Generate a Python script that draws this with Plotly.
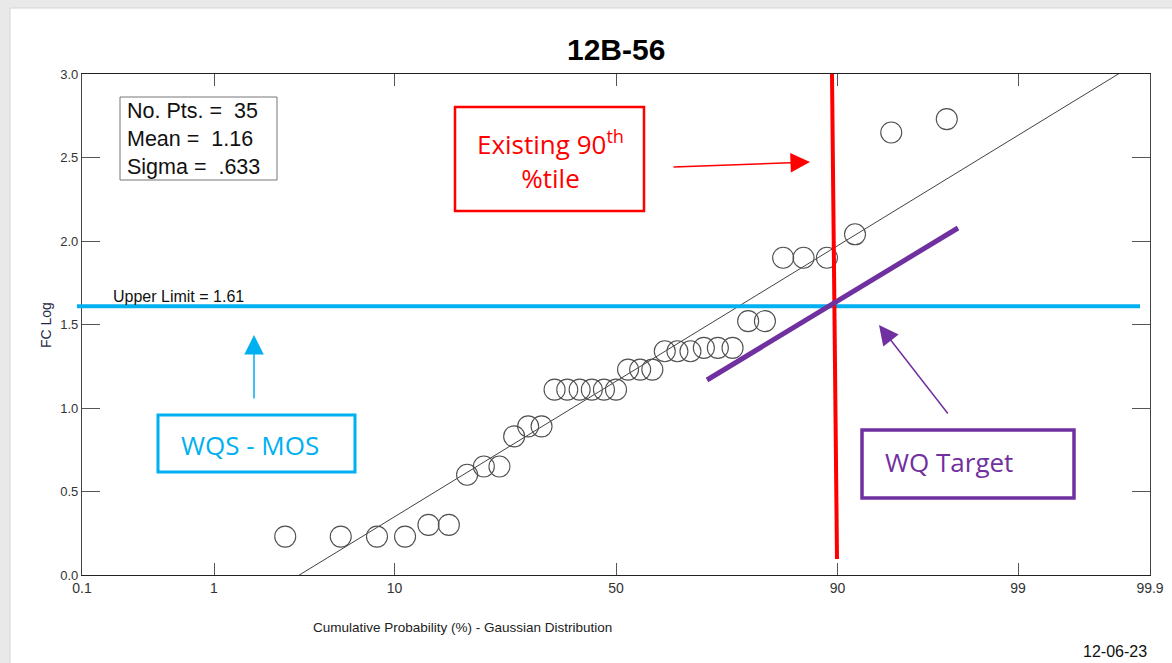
import math
import plotly.graph_objects as go

# ---------------- data ----------------
chart_title = "12B-56"
cum_prob_pct = [2.78, 5.56, 8.33, 11.11, 13.89, 16.67, 19.44, 22.22, 25.00, 27.78,
                30.56, 33.33, 36.11, 38.89, 41.67, 44.44, 47.22, 50.00, 52.78, 55.56,
                58.33, 61.11, 63.89, 66.67, 69.44, 72.22, 75.00, 77.78, 80.56, 83.33,
                86.11, 88.89, 91.67, 94.44, 97.22]
fc_log = [0.23, 0.23, 0.23, 0.23, 0.30, 0.30, 0.60, 0.65, 0.65, 0.83,
          0.89, 0.89, 1.11, 1.11, 1.11, 1.11, 1.11, 1.11, 1.23, 1.23,
          1.23, 1.34, 1.34, 1.34, 1.36, 1.36, 1.36, 1.52, 1.52, 1.90,
          1.90, 1.90, 2.04, 2.65, 2.73]
x_tick_labels = ["0.1", "1", "10", "50", "90", "99", "99.9"]
y_tick_vals = [0.0, 0.5, 1.0, 1.5, 2.0, 2.5, 3.0]
n_pts = 35
mean_val = 1.16
sigma_val = 0.633
upper_limit = 1.61
stats_lines = ["No. Pts. =\u00a0\u00a035", "Mean =\u00a0\u00a01.16", "Sigma =\u00a0\u00a0.633"]
date_text = "12-06-23"


def norm_ppf(p):
    lo, hi = -10.0, 10.0
    for _ in range(200):
        mid = (lo + hi) / 2
        if 0.5 * (1 + math.erf(mid / math.sqrt(2))) < p:
            lo = mid
        else:
            hi = mid
    return (lo + hi) / 2


# ---------------- layout geometry ----------------
W, H = 1172, 663
L, R, T, B = 82, 1150, 74, 575


def px(x):
    return (x - L) / (R - L)


def py(y):
    return (B - y) / (B - T)


zmin = norm_ppf(0.001)
zmax = norm_ppf(0.999)
x_pts = [norm_ppf(p / 100) for p in cum_prob_pct]
x_ticks = [norm_ppf(float(t) / 100) for t in x_tick_labels]

fig = go.Figure()

# fit line
fig.add_trace(go.Scatter(
    x=[zmin, zmax], y=[mean_val + sigma_val * zmin, mean_val + sigma_val * zmax],
    mode="lines", line=dict(color="#111111", width=0.8), hoverinfo="skip", showlegend=False))

# data points
fig.add_trace(go.Scatter(
    x=x_pts, y=fc_log, mode="markers",
    marker=dict(symbol="circle-open", size=21, color="#505050", line=dict(width=1.1, color="#505050")),
    showlegend=False, cliponaxis=False))

ARIAL = "Liberation Sans, Arial, sans-serif"
CALLOUT = "Open Sans, Segoe UI, sans-serif"

shapes = []
# page frame (grey bands top and left)
shapes.append(dict(type="rect", xref="paper", yref="paper", x0=px(0), x1=px(W), y0=py(0), y1=py(8),
                   fillcolor="#e9e9e9", line=dict(width=0), layer="below"))
shapes.append(dict(type="rect", xref="paper", yref="paper", x0=px(0), x1=px(10), y0=py(0), y1=py(H),
                   fillcolor="#e9e9e9", line=dict(width=0), layer="below"))
shapes.append(dict(type="line", xref="paper", yref="paper", x0=px(10), x1=px(W), y0=py(8), y1=py(8),
                   line=dict(color="#d4d4d4", width=1)))
shapes.append(dict(type="line", xref="paper", yref="paper", x0=px(10), x1=px(10), y0=py(8), y1=py(H),
                   line=dict(color="#d4d4d4", width=1)))

# upper limit line
shapes.append(dict(type="line", xref="paper", yref="y", x0=px(77), x1=px(1140), y0=upper_limit, y1=upper_limit,
                   line=dict(color="#00B0F0", width=4), layer="above"))
# existing 90th percentile line (red)
shapes.append(dict(type="line", xref="paper", yref="paper", x0=px(832), y0=py(74), x1=px(837), y1=py(559),
                   line=dict(color="#FF0000", width=4), layer="above"))
# WQ target line (purple)
shapes.append(dict(type="line", xref="paper", yref="paper", x0=px(707), y0=py(380), x1=px(958), y1=py(228),
                   line=dict(color="#7030A0", width=5), layer="above"))
# callout boxes
shapes.append(dict(type="rect", xref="paper", yref="paper", x0=px(455), x1=px(644), y0=py(107), y1=py(211),
                   line=dict(color="#FF0000", width=2.5), fillcolor="rgba(0,0,0,0)"))
shapes.append(dict(type="rect", xref="paper", yref="paper", x0=px(158), x1=px(355), y0=py(415), y1=py(472),
                   line=dict(color="#00B0F0", width=3), fillcolor="rgba(0,0,0,0)"))
shapes.append(dict(type="rect", xref="paper", yref="paper", x0=px(862), x1=px(1074), y0=py(430), y1=py(498),
                   line=dict(color="#7030A0", width=3.5), fillcolor="rgba(0,0,0,0)"))
# stats box
shapes.append(dict(type="rect", xref="paper", yref="paper", x0=px(120), x1=px(277), y0=py(97), y1=py(180),
                   line=dict(color="#777777", width=1), fillcolor="white"))

annotations = []
# stats text
annotations.append(dict(xref="paper", yref="paper", x=px(125), y=py(138.5), xanchor="left", yanchor="middle",
                        text="<br>".join(stats_lines), showarrow=False, align="left",
                        font=dict(family=ARIAL, size=21.5, color="#111111")))
# upper limit label
annotations.append(dict(xref="paper", yref="paper", x=px(111), y=py(296), xanchor="left", yanchor="middle",
                        text=f"Upper Limit = {upper_limit:.2f}", showarrow=False,
                        font=dict(family=ARIAL, size=16, color="#111111")))
# callout texts
annotations.append(dict(xref="paper", yref="paper", x=px(550), y=py(160), xanchor="center", yanchor="middle",
                        text="Existing 90<sup>th</sup><br>%tile", showarrow=False, align="center",
                        font=dict(family=CALLOUT, size=26, color="#FF0000")))
annotations.append(dict(xref="paper", yref="paper", x=px(179), y=py(445), xanchor="left", yanchor="middle",
                        text="WQS - MOS", showarrow=False,
                        font=dict(family=CALLOUT, size=26, color="#00B0F0")))
annotations.append(dict(xref="paper", yref="paper", x=px(883), y=py(462), xanchor="left", yanchor="middle",
                        text="WQ Target", showarrow=False,
                        font=dict(family=CALLOUT, size=26, color="#7030A0")))
# arrows
annotations.append(dict(xref="paper", yref="paper", x=px(810), y=py(162), ax=672 - 810, ay=167 - 162,
                        text="", showarrow=True, arrowhead=2, arrowsize=2.6, arrowwidth=1.5, arrowcolor="#FF0000"))
annotations.append(dict(xref="paper", yref="paper", x=px(254), y=py(335), ax=0, ay=400 - 335,
                        text="", showarrow=True, arrowhead=2, arrowsize=2.6, arrowwidth=1.5, arrowcolor="#00B0F0"))
annotations.append(dict(xref="paper", yref="paper", x=px(879), y=py(325), ax=949 - 879, ay=415 - 325,
                        text="", showarrow=True, arrowhead=2, arrowsize=2.6, arrowwidth=1.5, arrowcolor="#7030A0"))
# title
annotations.append(dict(xref="paper", yref="paper", x=px(616), y=py(49), xanchor="center", yanchor="middle",
                        text=f"<b>{chart_title}</b>", showarrow=False,
                        font=dict(family=ARIAL, size=30, color="#000000")))
# axis titles
annotations.append(dict(xref="paper", yref="paper", x=px(462), y=py(627), xanchor="center", yanchor="middle",
                        text="Cumulative Probability (%) - Gaussian Distribution", showarrow=False,
                        font=dict(family=ARIAL, size=13.5, color="#222222")))
annotations.append(dict(xref="paper", yref="paper", x=px(46), y=py(325), xanchor="center", yanchor="middle",
                        text="FC Log", textangle=-90, showarrow=False,
                        font=dict(family=ARIAL, size=14, color="#1f2a44")))
annotations.append(dict(xref="paper", yref="paper", x=px(1149), y=py(651), xanchor="right", yanchor="middle",
                        text=date_text, showarrow=False,
                        font=dict(family=ARIAL, size=16, color="#111111")))

fig.update_layout(
    width=W, height=H,
    margin=dict(l=L, r=W - R, t=T, b=H - B, pad=0),
    paper_bgcolor="white", plot_bgcolor="white",
    shapes=shapes, annotations=annotations,
    xaxis=dict(range=[zmin, zmax], tickmode="array", tickvals=x_ticks, ticktext=x_tick_labels,
               ticks="inside", ticklen=12, tickwidth=1, tickcolor="#555555",
               showline=True, linecolor="#222222", linewidth=1.2, mirror="ticks",
               showgrid=False, zeroline=False, automargin=False,
               tickfont=dict(family=ARIAL, size=14, color="#333333")),
    yaxis=dict(range=[0, 3], tickmode="array", tickvals=y_tick_vals, tickformat=".1f",
               ticks="inside", ticklen=18, tickwidth=1, tickcolor="#555555",
               showline=True, linecolor="#444444", linewidth=1.2, mirror="ticks",
               showgrid=False, zeroline=False, automargin=False,
               tickfont=dict(family=ARIAL, size=13, color="#333333")),
)

fig.write_html("out.html",
               config={"displayModeBar": False},
               post_script="document.body.style.margin='0px';document.body.style.padding='0px';"
                           "document.body.style.overflow='hidden';")
